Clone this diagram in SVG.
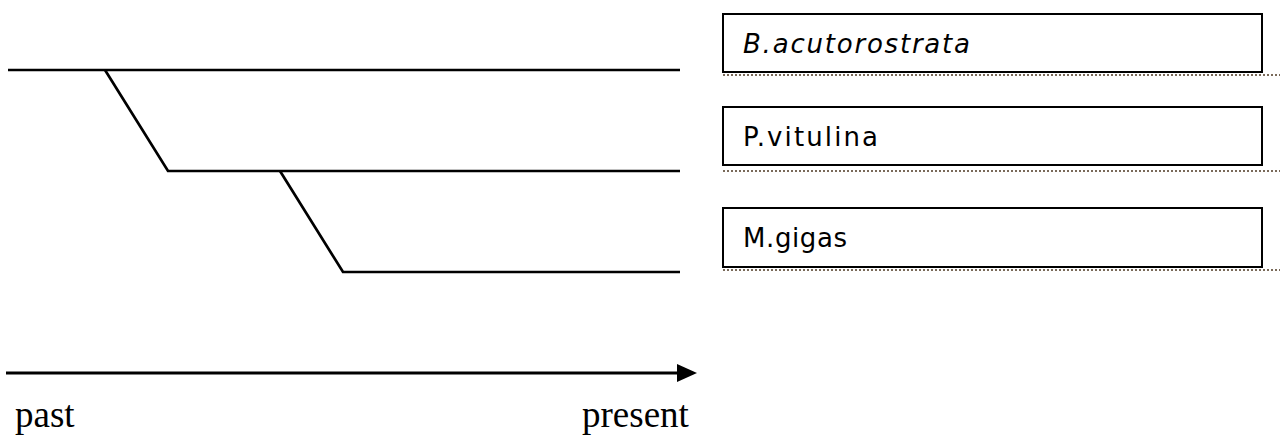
<svg xmlns="http://www.w3.org/2000/svg" width="1280" height="436" viewBox="0 0 1280 436">
<defs>
<style>
.br{fill:none;stroke:#000;stroke-width:2.7;stroke-linejoin:miter}
.box rect{fill:#fff;stroke:#000;stroke-width:2}
.box text{font-family:"DejaVu Sans",Lato,sans-serif;font-size:26px;fill:#000}
.dot{stroke:#7a6a5a;stroke-width:2;stroke-dasharray:2 2}
.lab{font-family:"Liberation Serif","Times New Roman",serif;font-size:37px;fill:#000}
</style>
</defs>
<rect width="1280" height="436" fill="#fff"/>
<g id="connectors">
<path class="br" d="M8,70 H680"/>
<path class="br" d="M105,70 L168,171 H680"/>
<path class="br" d="M280,171 L343,272 H680"/>
<line x1="6" y1="373" x2="682" y2="373" stroke="#000" stroke-width="3"/>
<path d="M677,364 L697,373 L677,382 Z" fill="#000"/>
</g>
<g id="box-acutorostrata" class="box">
<rect x="723" y="14" width="539" height="58"/>
<line class="dot" x1="723" y1="75" x2="1280" y2="75"/>
<text x="743" y="53" font-style="italic" textLength="227" lengthAdjust="spacing">B.acutorostrata</text>
</g>
<g id="box-vitulina" class="box">
<rect x="723" y="107" width="539" height="58"/>
<line class="dot" x1="723" y1="171" x2="1280" y2="171"/>
<text x="743" y="146" textLength="135" lengthAdjust="spacing">P.vitulina</text>
</g>
<g id="box-gigas" class="box">
<rect x="723" y="208" width="539" height="59"/>
<line class="dot" x1="723" y1="270" x2="1280" y2="270"/>
<text x="743" y="247" textLength="104" lengthAdjust="spacing">M.gigas</text>
</g>
<g id="axis-labels">
<text class="lab" x="15" y="427">past</text>
<text class="lab" x="582" y="427">present</text>
</g>
</svg>
